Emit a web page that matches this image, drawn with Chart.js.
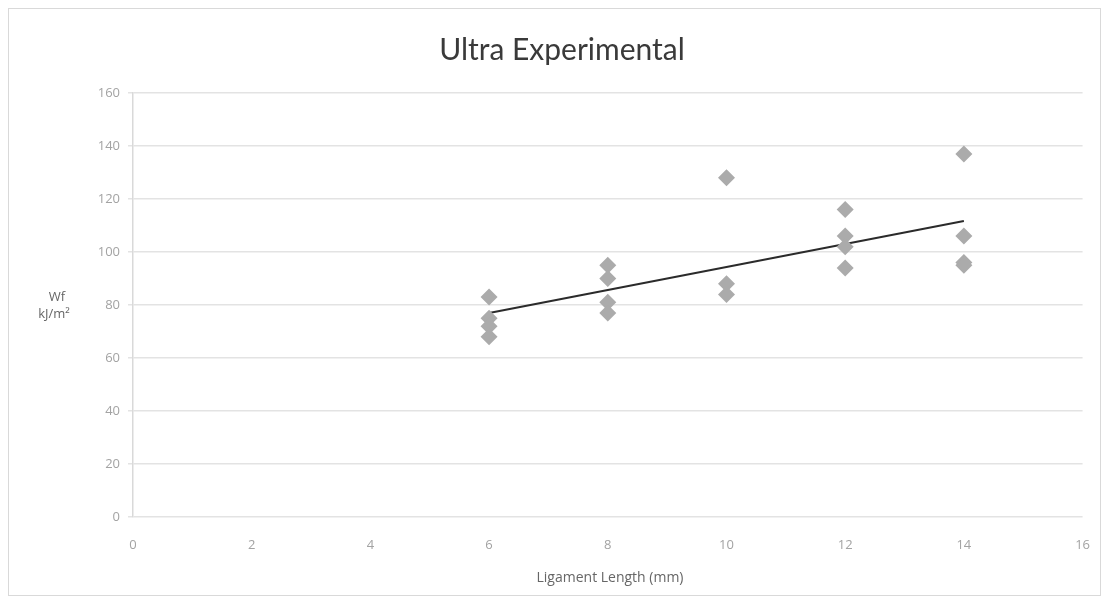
<!DOCTYPE html>
<html lang="en">
<head>
  <meta charset="UTF-8" />
  <title>Ultra Experimental</title>
  <script src="https://cdn.jsdelivr.net/npm/chart.js"></script>
  <style>
    body { margin: 0; background: #fff; }
    #wrap { width: 1110px; height: 602px; position: relative; }
  </style>
</head>
<body>
  <div id="wrap"><canvas id="scatterChart" width="1110" height="602"></canvas></div>

  <script>
    // values
    const ligamentLengths = [6, 6, 6, 6, 8, 8, 8, 8, 10, 10, 10, 12, 12, 12, 12, 14, 14, 14, 14];
    const wfValues = [83, 75, 72, 68, 95, 90, 81, 77, 128, 88, 84, 116, 106, 102, 94, 137, 106, 96, 95];
    const xTicks = [0, 2, 4, 6, 8, 10, 12, 14, 16];
    const yTicks = [0, 20, 40, 60, 80, 100, 120, 140, 160];

    const points = ligamentLengths.map((x, i) => ({ x: x, y: wfValues[i] }));

    // linear trendline (least squares) over the data range
    const n = points.length;
    const mx = ligamentLengths.reduce((a, b) => a + b, 0) / n;
    const my = wfValues.reduce((a, b) => a + b, 0) / n;
    let sxy = 0, sxx = 0;
    points.forEach(p => { sxy += (p.x - mx) * (p.y - my); sxx += (p.x - mx) ** 2; });
    const slope = sxy / sxx;
    const xMin = Math.min(...ligamentLengths), xMax = Math.max(...ligamentLengths);
    const trend = [xMin, xMax].map(x => ({ x: x, y: my + slope * (x - mx) }));

    // title, axis labels and outer frame
    const decor = {
      id: 'decor',
      afterDraw(chart) {
        const c = chart.ctx;
        c.save();
        c.strokeStyle = '#d9d9d9';
        c.lineWidth = 1;
        c.strokeRect(8.5, 8.5, 1092, 587);
        c.fillStyle = '#3a3a3a';
        c.textAlign = 'center';
        c.textBaseline = 'middle';
        c.font = '30px Lato, "Open Sans", sans-serif';
        c.fillText('Ultra Experimental', 562, 50);
        c.font = '13px "Open Sans", sans-serif';
        c.fillStyle = '#666666';
        c.fillText('Wf', 57, 297);
        c.fillText('kJ/m\u00B2', 54, 314);
        c.font = '14px "Open Sans", sans-serif';
        c.fillText('Ligament Length (mm)', 610, 578);
        c.restore();
      }
    };

    const ctx = document.getElementById('scatterChart').getContext('2d');
    new Chart(ctx, {
      type: 'scatter',
      data: {
        datasets: [{
          label: 'Wf',
          data: points,
          pointStyle: 'rectRot',
          pointRadius: 8.5,
          pointHoverRadius: 8.5,
          backgroundColor: '#ababab',
          borderColor: '#ababab',
          borderWidth: 0
        }, {
          label: 'Trend',
          type: 'line',
          data: trend,
          borderColor: '#2b2b2b',
          borderWidth: 2,
          pointRadius: 0,
          fill: false
        }]
      },
      options: {
        responsive: false,
        animation: false,
        layout: { padding: { left: 60, right: 25, top: 93, bottom: 0 } },
        plugins: { legend: { display: false }, tooltip: { enabled: false } },
        scales: {
          x: {
            type: 'linear',
            min: 0,
            max: 16,
            afterBuildTicks: s => { s.ticks = xTicks.map(v => ({ value: v })); },
            afterFit: s => { s.height = 85; },
            grid: { display: false, drawTicks: false },
            border: { display: false },
            ticks: { color: '#a3a3a3', font: { size: 13, family: '"Open Sans", sans-serif' }, padding: 20, maxRotation: 0 }
          },
          y: {
            min: 0,
            max: 160,
            afterBuildTicks: s => { s.ticks = yTicks.map(v => ({ value: v })); },
            afterFit: s => { s.width = 73; },
            grid: { color: '#e3e3e3', lineWidth: 1.5, drawTicks: true, tickLength: 5 },
            border: { display: true, color: '#d9d9d9', width: 1.5 },
            ticks: { color: '#a3a3a3', font: { size: 13, family: '"Open Sans", sans-serif' }, padding: 8 }
          }
        }
      },
      plugins: [decor]
    });
  </script>
</body>
</html>
